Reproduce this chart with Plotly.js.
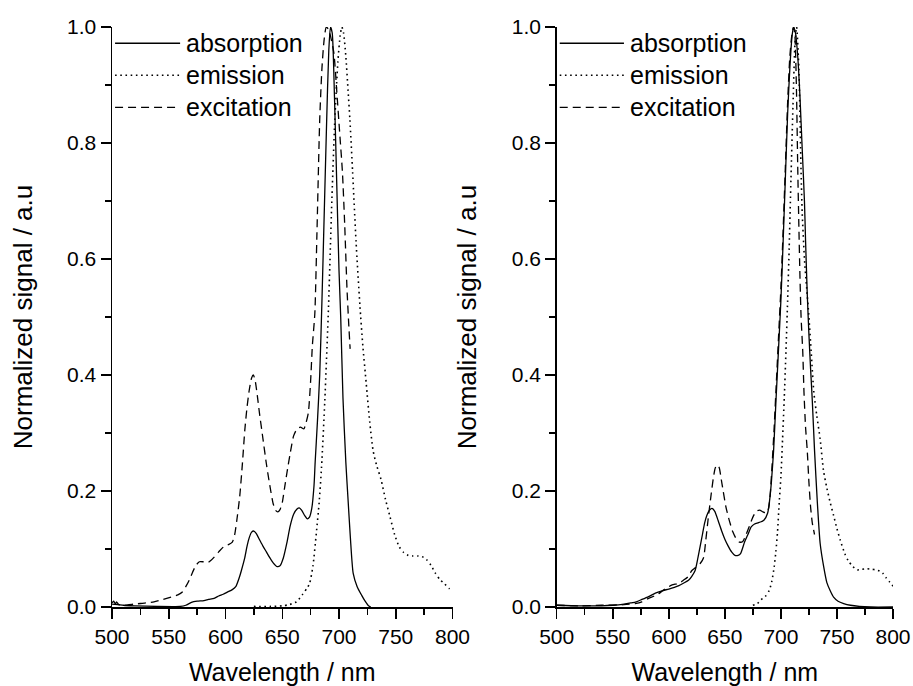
<!DOCTYPE html>
<html>
<head>
<meta charset="utf-8">
<script src="https://cdn.plot.ly/plotly-3.0.1.min.js"></script>
<style>html,body{margin:0;padding:0;background:#fff;}#chart{width:913px;height:686px;}</style>
</head>
<body>
<div id="chart"></div>
<script>
// ---------- Left panel ----------
const absL_x = [500,501.5,503,504,506,510,520,540,560,565,570,575,581,585,590,594,598,602,606,609,612,614,617,619,621,623,625,627,630,633,636,639,642,645,648,651,654,657,660,663,665,667,670,672,674,676,678,679,681,683,685,687,689,691,692.5,694,696,698,700,701.5,703.5,706,708,710,712.5,716,720,723,726,728];
const absL_y = [0.007,0.010,0.005,0.009,0.004,0.003,0.002,0.001,0.001,0.003,0.008,0.010,0.011,0.013,0.015,0.019,0.022,0.026,0.030,0.035,0.050,0.063,0.085,0.105,0.120,0.129,0.131,0.127,0.116,0.105,0.095,0.085,0.076,0.070,0.071,0.085,0.110,0.140,0.160,0.169,0.171,0.167,0.157,0.152,0.155,0.170,0.210,0.250,0.320,0.400,0.530,0.680,0.830,0.960,1.000,0.990,0.880,0.730,0.580,0.500,0.360,0.250,0.184,0.120,0.058,0.035,0.020,0.010,0.002,0.000];

const excL_x = [500,505,510,515,520,525,530,537,545,552,558,562,565,568,571,574,577,580,584,587,590,594,599,603,606,608,610,612.5,615,617,619,621,623,624.5,626,628,630,633,636,639,642,644,646,648,650,652,654,657,660,663,666,669,671,673,675,676.5,678.7,680.5,683,685,687,688.8,691,693,695.5,698,700.5,703,705,707,708.5,709.8];
const excL_y = [0.005,0.004,0.003,0.004,0.005,0.006,0.007,0.009,0.013,0.017,0.021,0.026,0.035,0.046,0.060,0.072,0.078,0.078,0.076,0.080,0.086,0.095,0.105,0.108,0.112,0.124,0.150,0.190,0.250,0.305,0.345,0.375,0.395,0.400,0.392,0.365,0.333,0.290,0.247,0.210,0.178,0.167,0.164,0.168,0.180,0.205,0.230,0.265,0.295,0.307,0.310,0.307,0.318,0.335,0.390,0.450,0.506,0.640,0.840,0.930,0.980,1.000,0.995,0.980,0.955,0.890,0.820,0.750,0.660,0.550,0.490,0.445];

const emL_x = [625,640,650,656,662.5,668,672,674,677,680,682.5,684.6,687.5,690.8,693.5,696.3,699,701,702.5,704,706,708,709.6,712,715,718.4,721,724,727,730,733,737,741,745,749,753,757,761,765,769,773,777,781,785,789,793,797,800];
const emL_y = [0.001,0.001,0.002,0.004,0.009,0.022,0.033,0.040,0.070,0.127,0.180,0.241,0.356,0.520,0.690,0.840,0.940,0.985,1.000,0.990,0.950,0.890,0.840,0.750,0.630,0.520,0.450,0.385,0.320,0.270,0.245,0.220,0.185,0.155,0.125,0.104,0.094,0.089,0.088,0.088,0.087,0.082,0.072,0.058,0.047,0.040,0.032,0.027];

// ---------- Right panel ----------
const absR_x = [500,520,540,550,560,566,571,576,582,588,594,600,605,609,613,617.6,620.5,623.5,626,628,630,632,634,636,638.5,641,644,647,650,653,656,659,661.8,664,667.6,670.6,673.5,676.5,679.5,682.4,685,688.2,690,691.5,693.5,695.6,697.5,700,702,704,706,708,710,711.3,713,715,717,719,721,722,723.5,725,726.5,728,730,732.4,735,738.2,741,744,747,751,756,762,770,780,800];
const absR_y = [0.003,0.002,0.002,0.003,0.005,0.007,0.009,0.013,0.018,0.024,0.028,0.031,0.034,0.037,0.041,0.046,0.053,0.063,0.085,0.105,0.125,0.145,0.158,0.166,0.170,0.165,0.149,0.132,0.117,0.105,0.095,0.089,0.089,0.092,0.112,0.125,0.138,0.143,0.145,0.147,0.150,0.162,0.185,0.215,0.270,0.356,0.430,0.529,0.630,0.740,0.850,0.930,0.985,1.000,0.990,0.950,0.880,0.790,0.700,0.632,0.540,0.470,0.410,0.356,0.270,0.184,0.110,0.069,0.042,0.028,0.017,0.010,0.006,0.003,0.001,0.000,0.000];

const excR_x = [500,520,540,560,570,576,582,587,591,595,599,603,607,610,613,617,620.6,624,628,631,633,635,637.5,639.7,641.5,643.3,645,646.8,648.5,651,654,657,660,663,666,669,672,675,678,681,684,687,689,690.5,692,694,696,698,700,702,704,706,708,710,711.3,712.5,714,715,716,717,718,719.5,720.6,722,723.5,725,726.5,728,730];
const excR_y = [0.003,0.002,0.003,0.004,0.006,0.009,0.015,0.019,0.023,0.029,0.034,0.038,0.040,0.042,0.046,0.052,0.063,0.068,0.075,0.085,0.115,0.150,0.190,0.222,0.240,0.245,0.240,0.220,0.200,0.172,0.149,0.130,0.118,0.112,0.113,0.125,0.140,0.155,0.165,0.167,0.164,0.162,0.170,0.195,0.240,0.310,0.390,0.470,0.550,0.650,0.760,0.870,0.950,0.990,1.000,0.985,0.880,0.760,0.660,0.570,0.500,0.440,0.370,0.310,0.270,0.215,0.172,0.145,0.125];

const emR_x = [675,679,682,686,689.7,692,694,695.5,697,698.5,700,701.5,703,704.5,706,707.4,709,711,712.5,714,716,718,719,721,723,725,727,729.4,732,735,738,741,744,747,750,753,757,760,764,768,772,776.5,781,785,788,791,794,797,800];
const emR_y = [0.003,0.006,0.012,0.018,0.029,0.045,0.069,0.095,0.130,0.180,0.225,0.290,0.360,0.440,0.529,0.620,0.740,0.880,0.970,1.000,0.930,0.750,0.680,0.600,0.550,0.500,0.440,0.370,0.330,0.290,0.235,0.205,0.180,0.158,0.135,0.115,0.092,0.080,0.070,0.064,0.065,0.066,0.065,0.064,0.062,0.058,0.050,0.043,0.036];

const seriesNames = ['absorption','emission','excitation'];
const dashStyles = ['solid','1.6px,3.6px','8px,5px'];
const xTickVals = [500,550,600,650,700,750,800];
const yTickVals = [0,0.2,0.4,0.6,0.8,1.0];

const FONT = 'Arial, "Liberation Sans", sans-serif';
const LWK = [1.3, 1.6, 1.3];

function tr(x, y, k, xa, ya) {
  return {x: x, y: y, xaxis: xa, yaxis: ya, type: 'scatter', mode: 'lines',
    name: seriesNames[k], showlegend: false,
    line: {color: '#000', width: LWK[k], dash: dashStyles[k], shape: 'spline', smoothing: 0.6}};
}

const data = [
  tr(absL_x, absL_y, 0, 'x', 'y'),
  tr(emL_x, emL_y, 1, 'x', 'y'),
  tr(excL_x, excL_y, 2, 'x', 'y'),
  tr(absR_x, absR_y, 0, 'x2', 'y2'),
  tr(emR_x, emR_y, 1, 'x2', 'y2'),
  tr(excR_x, excR_y, 2, 'x2', 'y2')
];

function xax(domain, anchor) {
  return {domain: domain, anchor: anchor, range: [500, 800], tickvals: xTickVals,
    showline: true, linecolor: '#000', linewidth: 1.5, mirror: false, showgrid: false, zeroline: false,
    ticks: 'outside', ticklen: 10, tickwidth: 1.5, tickcolor: '#000',
    minor: {dtick: 25, ticks: 'outside', ticklen: 6, tickwidth: 1.5, tickcolor: '#000', showgrid: false},
    tickfont: {family: FONT, size: 21, color: '#000'}, ticklabeloverflow: 'allow',
    title: {text: 'Wavelength / nm', font: {family: FONT, size: 25, color: '#000'}, standoff: 19},
    automargin: false, fixedrange: true};
}
function yax(anchor) {
  return {domain: [0, 1], anchor: anchor, range: [0, 1], tickvals: yTickVals, tickformat: '.1f',
    showline: true, linecolor: '#000', linewidth: 1.5, showgrid: false, zeroline: false,
    ticks: 'outside', ticklen: 10, tickwidth: 1.5, tickcolor: '#000',
    minor: {dtick: 0.1, ticks: 'outside', ticklen: 6, tickwidth: 1.5, tickcolor: '#000', showgrid: false},
    tickfont: {family: FONT, size: 21, color: '#000'},
    title: {text: 'Normalized signal / a.u', font: {family: FONT, size: 26, color: '#000'}, standoff: 27},
    automargin: false, fixedrange: true};
}

// manual legend (line samples + labels) in each panel
const legRows = [0.972, 0.9167, 0.8615];
const shapes = [], annotations = [];
[['x', 'y'], ['x2', 'y2']].forEach(([xa, ya]) => {
  seriesNames.forEach((nm, k) => {
    shapes.push({type: 'line', xref: xa + ' domain', yref: ya + ' domain',
      x0: 0.009, x1: 0.2, y0: legRows[k], y1: legRows[k],
      line: {color: '#000', width: LWK[k], dash: dashStyles[k]}});
    annotations.push({xref: xa + ' domain', yref: ya + ' domain', x: 0.212, y: legRows[k],
      xanchor: 'left', yanchor: 'middle', showarrow: false, text: nm,
      font: {family: FONT, size: 25, color: '#000'}});
  });
});

const layout = {
  width: 913, height: 686,
  margin: {l: 112, r: 20, t: 27, b: 79},
  paper_bgcolor: '#fff', plot_bgcolor: '#fff',
  showlegend: false,
  xaxis: xax([0, 0.436], 'y'),
  yaxis: yax('x'),
  xaxis2: xax([0.5694, 1], 'y2'),
  yaxis2: yax('x2'),
  shapes: shapes, annotations: annotations
};

Plotly.newPlot('chart', data, layout, {displayModeBar: false, staticPlot: true});
</script>
</body>
</html>
